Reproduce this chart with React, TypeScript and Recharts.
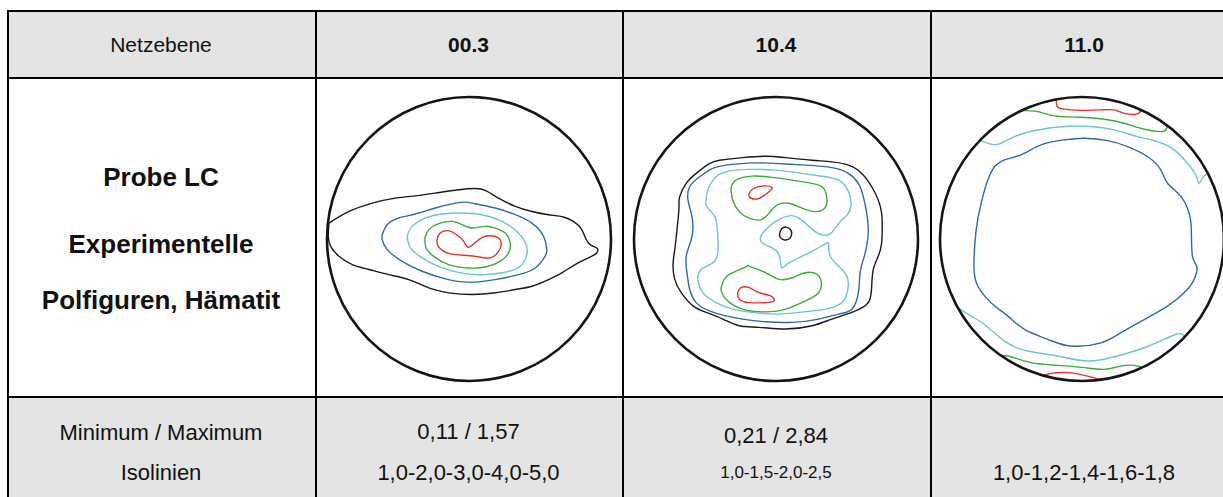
import { Line, LineChart, ReferenceDot, XAxis, YAxis } from "recharts";

type Pt = [number, number];

const FONT = '"Liberation Sans", Arial, sans-serif';

// table texts
const rowHeader = "Netzebene";
const planes = ["00.3", "10.4", "11.0"];
const sampleTitle = ["Probe LC", "Experimentelle", "Polfiguren, Hämatit"];
const minMaxLabel = "Minimum / Maximum";
const isoLabel = "Isolinien";
const minMax = ["0,11 / 1,57", "0,21 / 2,84", ""];
const isolines = ["1,0-2,0-3,0-4,0-5,0", "1,0-1,5-2,0-2,5", "1,0-1,2-1,4-1,6-1,8"];

// isoline colours, lowest level first
const isoColors = ["#1a1a1a", "#2f6aa5", "#6cc5cb", "#3aad37", "#e5322d"];

// ---- pole figure 00.3 (x, y in units of the circle radius) ----
const pf003L1: Pt[] = [
  [-0.986, 0.112], [-0.845, 0.194], [-0.681, 0.253], [-0.518, 0.288], [-0.377, 0.304],
  [-0.237, 0.323], [-0.073, 0.347], [0.044, 0.356], [0.115, 0.342], [0.208, 0.288],
  [0.326, 0.23], [0.443, 0.194], [0.56, 0.171], [0.665, 0.155], [0.735, 0.124],
  [0.794, 0.066], [0.841, -0.028], [0.899, -0.063], [0.899, -0.098], [0.841, -0.133],
  [0.747, -0.18], [0.653, -0.239], [0.56, -0.286], [0.443, -0.333], [0.326, -0.356],
  [0.185, -0.379], [0.021, -0.391], [-0.143, -0.379], [-0.283, -0.344], [-0.424, -0.286],
  [-0.564, -0.251], [-0.705, -0.215], [-0.822, -0.18], [-0.916, -0.122], [-0.974, -0.052],
  [-0.991, 0.019],
];
const pf003L2: Pt[] = [
  [-0.611, 0.03], [-0.576, 0.101], [-0.494, 0.148], [-0.377, 0.176], [-0.237, 0.218],
  [-0.061, 0.258], [0.044, 0.248], [0.185, 0.218], [0.326, 0.171], [0.443, 0.112],
  [0.525, 0.019], [0.548, -0.075], [0.536, -0.122], [0.466, -0.204], [0.349, -0.251],
  [0.185, -0.286], [-0.002, -0.304], [-0.166, -0.281], [-0.33, -0.227], [-0.471, -0.157],
  [-0.576, -0.075], [-0.611, -0.005],
];
const pf003L3: Pt[] = [
  [-0.436, 0.019], [-0.4, 0.089], [-0.307, 0.148], [-0.19, 0.176], [-0.049, 0.183],
  [0.091, 0.171], [0.232, 0.124], [0.349, 0.042], [0.403, -0.04], [0.407, -0.11],
  [0.361, -0.192], [0.255, -0.234], [0.115, -0.251], [-0.026, -0.244], [-0.19, -0.204],
  [-0.33, -0.133], [-0.412, -0.063],
];
const pf003L4: Pt[] = [
  [-0.311, 0.007], [-0.283, 0.066], [-0.213, 0.108], [-0.119, 0.124], [-0.049, 0.101],
  [0.021, 0.077], [0.115, 0.089], [0.185, 0.077], [0.255, 0.042], [0.29, -0.028],
  [0.279, -0.098], [0.22, -0.157], [0.115, -0.197], [-0.002, -0.204], [-0.143, -0.18],
  [-0.248, -0.122], [-0.302, -0.063],
];
const pf003L5: Pt[] = [
  [-0.225, -0.005], [-0.208, 0.037], [-0.155, 0.059], [-0.096, 0.037], [-0.037, -0.016],
  [-0.002, -0.059], [0.068, -0.005], [0.138, 0.023], [0.208, 0.007], [0.227, -0.04],
  [0.208, -0.087], [0.15, -0.133], [0.044, -0.122], [-0.096, -0.11], [-0.178, -0.087],
  [-0.22, -0.047],
];

// ---- pole figure 10.4 ----
const pf104L1: Pt[] = [
  [-0.399, 0.555], [-0.235, 0.573], [-0.072, 0.583], [0.068, 0.573], [0.254, 0.555],
  [0.394, 0.543], [0.51, 0.52], [0.604, 0.462], [0.674, 0.368], [0.72, 0.275],
  [0.744, 0.182], [0.748, 0.089], [0.744, -0.028], [0.72, -0.121], [0.685, -0.214],
  [0.674, -0.331], [0.662, -0.424], [0.627, -0.471], [0.534, -0.517], [0.394, -0.564],
  [0.254, -0.611], [0.068, -0.634], [-0.119, -0.622], [-0.259, -0.611], [-0.375, -0.564],
  [-0.492, -0.517], [-0.585, -0.471], [-0.667, -0.378], [-0.713, -0.284], [-0.725, -0.179],
  [-0.713, -0.075], [-0.702, 0.019], [-0.69, 0.135], [-0.683, 0.228], [-0.678, 0.298],
  [-0.632, 0.392], [-0.562, 0.462], [-0.469, 0.531],
];
const pf104L1b: Pt[] = [
  [0.026, 0.042], [0.04, 0.072], [0.072, 0.084], [0.103, 0.065], [0.11, 0.03],
  [0.091, 0.0], [0.056, -0.005], [0.028, 0.014],
];
const pf104L2: Pt[] = [
  [-0.352, 0.52], [-0.166, 0.536], [0.021, 0.531], [0.207, 0.52], [0.394, 0.503],
  [0.51, 0.462], [0.58, 0.392], [0.615, 0.298], [0.639, 0.182], [0.65, 0.065],
  [0.639, -0.051], [0.615, -0.145], [0.592, -0.238], [0.58, -0.378], [0.534, -0.494],
  [0.441, -0.529], [0.301, -0.564], [0.114, -0.587], [-0.072, -0.583], [-0.235, -0.564],
  [-0.352, -0.541], [-0.469, -0.506], [-0.562, -0.448], [-0.608, -0.354], [-0.627, -0.238],
  [-0.632, -0.121], [-0.597, -0.005], [-0.585, 0.089], [-0.597, 0.182], [-0.62, 0.275],
  [-0.608, 0.368], [-0.538, 0.438], [-0.445, 0.497],
];
const pf104L3: Pt[] = [
  [-0.492, 0.275], [-0.48, 0.345], [-0.422, 0.438], [-0.329, 0.48], [-0.189, 0.49],
  [-0.002, 0.485], [0.184, 0.462], [0.347, 0.438], [0.441, 0.415], [0.506, 0.345],
  [0.529, 0.252], [0.51, 0.182], [0.464, 0.135], [0.417, 0.077], [0.371, 0.03],
  [0.301, 0.037], [0.231, 0.089], [0.161, 0.147], [0.091, 0.163], [-0.002, 0.124],
  [-0.072, 0.065], [-0.107, 0.019], [-0.096, -0.028], [-0.026, -0.063], [0.021, -0.11],
  [0.033, -0.168], [0.044, -0.203], [0.091, -0.168], [0.184, -0.121], [0.277, -0.075],
  [0.359, -0.028], [0.371, -0.051], [0.382, -0.121], [0.441, -0.191], [0.499, -0.261],
  [0.506, -0.354], [0.464, -0.448], [0.347, -0.494], [0.161, -0.517], [-0.002, -0.529],
  [-0.166, -0.517], [-0.305, -0.494], [-0.422, -0.448], [-0.515, -0.378], [-0.55, -0.284],
  [-0.527, -0.214], [-0.445, -0.168], [-0.41, -0.098], [-0.41, 0.019], [-0.422, 0.135],
  [-0.457, 0.193], [-0.492, 0.24],
];
const pf104L4a: Pt[] = [
  [-0.317, 0.357], [-0.282, 0.415], [-0.166, 0.443], [-0.026, 0.434], [0.114, 0.415],
  [0.254, 0.392], [0.336, 0.357], [0.359, 0.275], [0.343, 0.217], [0.277, 0.193],
  [0.184, 0.217], [0.091, 0.252], [0.009, 0.24], [-0.049, 0.182], [-0.107, 0.135],
  [-0.189, 0.147], [-0.259, 0.193], [-0.305, 0.275],
];
const pf104L4b: Pt[] = [
  [-0.375, -0.308], [-0.329, -0.249], [-0.212, -0.196], [-0.189, -0.191], [-0.072, -0.238],
  [0.021, -0.284], [0.114, -0.273], [0.207, -0.238], [0.289, -0.249], [0.319, -0.308],
  [0.301, -0.378], [0.207, -0.436], [0.068, -0.494], [-0.072, -0.513], [-0.235, -0.494],
  [-0.352, -0.424], [-0.387, -0.354],
];
const pf104L5a: Pt[] = [
  [-0.193, 0.31], [-0.166, 0.35], [-0.096, 0.373], [-0.03, 0.364], [-0.049, 0.333],
  [-0.096, 0.298], [-0.131, 0.282], [-0.177, 0.287],
];
const pf104L5b: Pt[] = [
  [-0.27, -0.378], [-0.247, -0.343], [-0.189, -0.343], [-0.119, -0.378], [-0.037, -0.401],
  [-0.014, -0.436], [-0.072, -0.448], [-0.189, -0.448], [-0.259, -0.424],
];

// ---- pole figure 11.0 (open lines end on the circle) ----
const pf110L2: Pt[] = [
  [-0.616, 0.511], [-0.546, 0.557], [-0.429, 0.593], [-0.288, 0.663], [-0.124, 0.698],
  [0.016, 0.71], [0.18, 0.693], [0.321, 0.651], [0.461, 0.581], [0.555, 0.487],
  [0.602, 0.393], [0.696, 0.3], [0.754, 0.183], [0.77, 0.066], [0.778, -0.122],
  [0.808, -0.192], [0.789, -0.286], [0.719, -0.379], [0.602, -0.473], [0.438, -0.567],
  [0.274, -0.66], [0.133, -0.731], [-0.077, -0.754], [-0.241, -0.707], [-0.405, -0.637],
  [-0.522, -0.543], [-0.639, -0.45], [-0.733, -0.333], [-0.761, -0.192], [-0.745, 0.066],
  [-0.71, 0.253], [-0.663, 0.417],
];
const pf110L3a: Pt[] = [
  [-0.71, 0.693], [-0.651, 0.67], [-0.581, 0.67], [-0.475, 0.721], [-0.311, 0.768],
  [-0.124, 0.792], [0.063, 0.792], [0.227, 0.768], [0.391, 0.721], [0.531, 0.686],
  [0.649, 0.628], [0.742, 0.534], [0.801, 0.452], [0.824, 0.393], [0.848, 0.429],
  [0.878, 0.459],
];
const pf110L3b: Pt[] = [
  [-0.862, -0.492], [-0.78, -0.543], [-0.686, -0.602], [-0.546, -0.719], [-0.382, -0.789],
  [-0.171, -0.824], [0.04, -0.859], [0.251, -0.824], [0.438, -0.766], [0.578, -0.707],
  [0.684, -0.665], [0.724, -0.696],
];
const pf110L4a: Pt[] = [
  [-0.417, 0.904], [-0.311, 0.897], [-0.194, 0.867], [-0.007, 0.857], [0.157, 0.843],
  [0.297, 0.815], [0.438, 0.773], [0.555, 0.756], [0.59, 0.768], [0.602, 0.796],
];
const pf110L4b: Pt[] = [
  [-0.569, -0.82], [-0.499, -0.829], [-0.358, -0.871], [-0.171, -0.89], [0.016, -0.906],
  [0.157, -0.918], [0.274, -0.895], [0.368, -0.89], [0.426, -0.906],
];
const pf110L5a: Pt[] = [
  [-0.183, 0.984], [-0.176, 0.937], [-0.136, 0.916], [-0.007, 0.906], [0.133, 0.909],
  [0.227, 0.909], [0.297, 0.885], [0.391, 0.881], [0.41, 0.909],
];
const pf110L5b: Pt[] = [
  [-0.276, -0.965], [-0.218, -0.946], [-0.101, -0.941], [0.016, -0.96], [0.145, -0.993],
];

type Curve = { level: number; pts: Pt[]; closed: boolean };

const fig003: Curve[] = [
  { level: 0, pts: pf003L1, closed: true },
  { level: 1, pts: pf003L2, closed: true },
  { level: 2, pts: pf003L3, closed: true },
  { level: 3, pts: pf003L4, closed: true },
  { level: 4, pts: pf003L5, closed: true },
];
const fig104: Curve[] = [
  { level: 0, pts: pf104L1, closed: true },
  { level: 0, pts: pf104L1b, closed: true },
  { level: 1, pts: pf104L2, closed: true },
  { level: 2, pts: pf104L3, closed: true },
  { level: 3, pts: pf104L4a, closed: true },
  { level: 3, pts: pf104L4b, closed: true },
  { level: 4, pts: pf104L5a, closed: true },
  { level: 4, pts: pf104L5b, closed: true },
];
const fig110: Curve[] = [
  { level: 1, pts: pf110L2, closed: true },
  { level: 2, pts: pf110L3a, closed: false },
  { level: 2, pts: pf110L3b, closed: false },
  { level: 3, pts: pf110L4a, closed: false },
  { level: 3, pts: pf110L4b, closed: false },
  { level: 4, pts: pf110L5a, closed: false },
  { level: 4, pts: pf110L5b, closed: false },
];

const R = 142;
const PAD = 8;

function PoleFigure({ curves, cx, cy }: { curves: Curve[]; cx: number; cy: number }) {
  const size = 2 * R + 2 * PAD;
  return (
    <div style={{ position: "absolute", left: cx - size / 2, top: cy - size / 2 }}>
      <LineChart width={size} height={size} margin={{ top: PAD, right: PAD, bottom: PAD, left: PAD }}>
        <XAxis type="number" dataKey="x" domain={[-1, 1]} allowDataOverflow hide />
        <YAxis type="number" dataKey="y" domain={[-1, 1]} allowDataOverflow hide />
        {curves.map((c, i) => {
          const pts = c.closed ? [...c.pts, c.pts[0]] : c.pts;
          return (
            <Line
              key={i}
              data={pts.map(([x, y]) => ({ x, y }))}
              dataKey="y"
              type="natural"
              stroke={isoColors[c.level]}
              strokeWidth={1.4}
              dot={false}
              activeDot={false}
              isAnimationActive={false}
            />
          );
        })}
        <ReferenceDot x={0} y={0} r={R} fill="none" stroke="#151515" strokeWidth={2.6} />
      </LineChart>
    </div>
  );
}

const colX = [7, 315, 622, 930, 1238];
const GRAY = "#e4e4e4";

function Txt({ col, y, size, bold, children }: { col: number; y: number; size: number; bold?: boolean; children: string }) {
  const left = colX[col];
  const w = colX[col + 1] - left;
  return (
    <div
      style={{
        position: "absolute",
        left,
        width: w,
        top: y - size,
        height: size * 2,
        lineHeight: `${size * 2}px`,
        textAlign: "center",
        fontSize: size,
        fontWeight: bold ? 700 : 400,
        fontFamily: FONT,
        color: "#111",
        whiteSpace: "nowrap",
      }}
    >
      {children}
    </div>
  );
}

export default function App() {
  const hLine = (top: number) => (
    <div style={{ position: "absolute", left: 7, top, width: 1240, height: 2, background: "#000" }} />
  );
  return (
    <div
      style={{
        position: "absolute",
        left: 0,
        top: 0,
        width: 1223,
        height: 497,
        overflow: "hidden",
        background: "#fff",
      }}
    >
      <div style={{ position: "absolute", left: 7, top: 10, width: 1240, height: 68, background: GRAY }} />
      <div style={{ position: "absolute", left: 7, top: 397, width: 1240, height: 110, background: GRAY }} />
      {hLine(10)}
      {hLine(77)}
      {hLine(396)}
      {colX.slice(0, 4).map((x, i) => (
        <div key={i} style={{ position: "absolute", left: x, top: 10, width: 2, height: 500, background: "#000" }} />
      ))}

      <Txt col={0} y={45} size={21}>{rowHeader}</Txt>
      {planes.map((p, i) => (
        <Txt key={p} col={i + 1} y={45} size={21} bold>{p}</Txt>
      ))}

      <Txt col={0} y={177} size={26} bold>{sampleTitle[0]}</Txt>
      <Txt col={0} y={244} size={26} bold>{sampleTitle[1]}</Txt>
      <Txt col={0} y={300} size={26} bold>{sampleTitle[2]}</Txt>

      <PoleFigure curves={fig003} cx={469} cy={239} />
      <PoleFigure curves={fig104} cx={776} cy={239} />
      <PoleFigure curves={fig110} cx={1082} cy={239} />

      <Txt col={0} y={433} size={22}>{minMaxLabel}</Txt>
      <Txt col={0} y={473} size={22}>{isoLabel}</Txt>
      {minMax.map((m, i) => (
        <Txt key={"m" + i} col={i + 1} y={i === 1 ? 436 : 432} size={22}>{m}</Txt>
      ))}
      {isolines.map((s, i) => (
        <Txt key={"i" + i} col={i + 1} y={473} size={i === 1 ? 17 : 22}>{s}</Txt>
      ))}
    </div>
  );
}
